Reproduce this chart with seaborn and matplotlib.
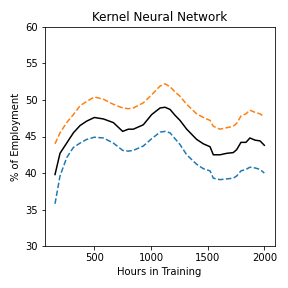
import matplotlib
matplotlib.use("Agg")
import matplotlib.pyplot as plt
import seaborn as sns
import pandas as pd

# hours in training (x positions of the sampled curve)
hours = [153, 197, 256, 315, 374, 432, 500, 580, 668, 750, 800, 844, 932,
         1006, 1080, 1124, 1168, 1212, 1256, 1315, 1403, 1462, 1521, 1550,
         1609, 1668, 1726, 1756, 1794, 1838, 1873, 1918, 1962, 2000]

mean_pct = [39.8, 42.7, 44.1, 45.5, 46.5, 47.1, 47.6, 47.4, 46.9, 45.7, 46.0, 46.0, 46.6,
            48.0, 48.9, 49.0, 48.7, 47.9, 47.2, 46.0, 44.6, 44.0, 43.6, 42.5,
            42.5, 42.7, 42.8, 43.2, 44.2, 44.2, 44.8, 44.5, 44.4, 43.8]

upper_pct = [44.0, 45.5, 46.9, 48.0, 49.2, 49.8, 50.4, 50.1, 49.4, 48.9, 48.8, 48.9, 49.6,
             50.7, 51.9, 52.2, 51.8, 51.1, 50.5, 49.4, 48.1, 47.6, 47.2, 46.4,
             46.0, 46.2, 46.4, 46.8, 47.8, 48.1, 48.6, 48.3, 48.1, 47.7]

lower_pct = [35.8, 39.6, 42.1, 43.5, 44.1, 44.6, 44.9, 44.8, 44.1, 43.1, 43.0, 43.1, 43.7,
             44.7, 45.6, 45.7, 45.5, 44.7, 43.9, 42.5, 41.2, 40.6, 40.3, 39.3,
             39.1, 39.2, 39.3, 39.6, 40.3, 40.5, 40.8, 40.7, 40.5, 40.0]

df = pd.DataFrame({"hours": hours, "mean": mean_pct,
                   "upper": upper_pct, "lower": lower_pct})

fig, ax = plt.subplots(figsize=(4, 4), dpi=72)
sns.lineplot(data=df, x="hours", y="upper", ax=ax, color="#ff7f0e", linestyle="--")
sns.lineplot(data=df, x="hours", y="lower", ax=ax, color="#1f77b4", linestyle="--")
sns.lineplot(data=df, x="hours", y="mean", ax=ax, color="black")

ax.set_ylim(30, 60)
ax.set_xticks([500, 1000, 1500, 2000])
ax.set_title("Kernel Neural Network")
ax.set_xlabel("Hours in Training")
ax.set_ylabel("% of Employment")
plt.tight_layout()
plt.savefig("out.png", dpi=72)
